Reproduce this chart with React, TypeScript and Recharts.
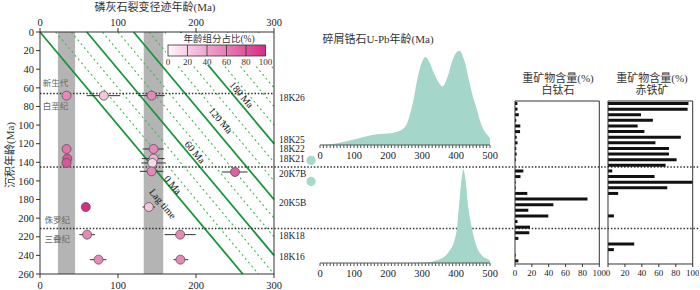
import React from "react";
import {
  Area,
  AreaChart,
  Bar,
  ComposedChart,
  ErrorBar,
  Line,
  ReferenceArea,
  ReferenceDot,
  ReferenceLine,
  Scatter,
  ScatterChart,
  XAxis,
  YAxis,
} from "recharts";

const FONT = '"Liberation Serif", "Noto Sans CJK SC", serif';

// apatite fission-track ages (x) against depositional age (y)
const aftX = [34, 81.8, 143, 34, 145.6, 35, 145.6, 34, 144, 143, 250, 58.7, 139.5, 60.4, 179.7, 75, 180];
const aftY = [68.4, 68.4, 68.4, 125.7, 125.7, 136, 136, 140.7, 140.7, 149.7, 150.4, 188, 188, 217.7, 217.7, 244.6, 244.6];
const aftErrLo = [4, 22, 17, 3, 14, 3, 15, 3, 14, 15, 17, 4, 8, 10, 20, 11, 9];
const aftErrHi = [4, 21, 17, 3, 13, 3, 14, 3, 16, 15, 16, 4, 8, 10, 20, 10, 10];
const aftPct = [55, 25, 55, 65, 55, 80, 35, 80, 15, 55, 75, 100, 25, 55, 55, 55, 55];

const xTicks = [0, 100, 200, 300];
const yTicks = [0, 20, 40, 60, 80, 100, 120, 140, 160, 180, 200, 220, 240, 260];
const bands = [
  [23, 45],
  [133, 158],
];
const solidLags = [0, 60, 120, 180];
const dottedLags = [20, 40, 80, 100, 140, 160, 200, 220, 240, 260, 280];
const boundaries = [66, 145, 211];
const boundaryWide = [false, true, true];

const sampleNames = ["18K26", "18K25", "18K22", "18K21", "20K7B", "20K5B", "18K18", "18K16"];
const sampleY = [70.6, 115.8, 125.8, 136.2, 152.5, 183.7, 218.8, 241];
const zirconDotsY = [138, 160.5];

const periodLabels = [
  { t: "新生代", x: 20, y: 54.5 },
  { t: "白垩纪", x: 20, y: 80 },
  { t: "侏罗纪", x: 22, y: 201.5 },
  { t: "三叠纪", x: 22, y: 222.3 },
];
const lagLabels = [
  { t: "180 Ma", x: 258.5, y: 67.3 },
  { t: "120 Ma", x: 231.7, y: 95 },
  { t: "60 Ma", x: 198.6, y: 129 },
  { t: "0 Ma", x: 170.4, y: 164 },
  { t: "Lag time", x: 157.5, y: 184.4 },
];

const legendTicks = [0, 20, 40, 60, 80, 100];

// detrital zircon U-Pb KDE curves
const kdeTopX = [0, 25, 50, 75, 100, 125, 150, 175, 200, 225, 250, 265, 275, 284, 300, 310, 320, 335, 350, 360, 375, 390, 400, 410, 425, 440, 450, 460, 470, 480, 490, 500];
const kdeTopH = [0, 0.5, 1.7, 3.5, 5.5, 7.8, 9.8, 11, 11.5, 13, 18, 31, 45, 62, 83, 88, 84, 72, 62, 58.5, 68, 85, 92, 94.3, 84, 62, 48, 37, 25, 16, 11, 7];
const kdeBotX = [0, 100, 200, 300, 325, 343, 360, 382, 395, 402, 412, 418, 421.5, 426, 436, 446, 461, 475, 490, 500];
const kdeBotH = [0, 0, 0, 0.2, 1, 2.7, 5, 12.7, 22, 32.7, 69, 88, 93.4, 88, 56, 36, 16, 8, 4.4, 2.5];
const kdeTicks = Array.from({ length: 51 }, (_, i) => i * 10);

// heavy mineral content (%)
const leucoxene = [2.8, 3, 4.5, 1.5, 6.3, 6, 2, 3, 1.5, 2, 1, 0, 9.9, 6.5, 0.8, 0.8, 14.6, 86, 45.5, 15.8, 39.5, 3, 17.8, 17, 4, 0, 0, 0.8, 4];
const hematite = [95, 94, 39, 53, 35, 43, 86, 56, 72, 72, 81, 68, 5, 55, 100, 70, 12, 0, 0, 0, 7, 0, 0, 0, 0, 31, 7, 0, 0];
const barTicks = [0, 20, 40, 60, 80, 100];

const PINK0 = [255, 246, 251];
const PINK1 = [214, 44, 132];
function pink(p: number) {
  const t = p / 100;
  const c = PINK0.map((a, i) => Math.round(a + (PINK1[i] - a) * t));
  return `rgb(${c[0]},${c[1]},${c[2]})`;
}

const tickStyle = { fill: "#222", fontSize: 10.5, fontFamily: FONT };
const sampleTick = { fill: "#222", fontSize: 9.5, fontFamily: FONT };
const smallTick = { fill: "#222", fontSize: 9, fontFamily: FONT };

function lagSegment(L: number) {
  const end = L + 260 <= 300 ? { x: L + 260, y: 260 } : { x: 300, y: 300 - L };
  return [{ x: L, y: 0 }, end];
}

function AftChart() {
  const points = aftX.map((x, i) => ({
    x,
    y: aftY[i],
    err: [aftErrLo[i], aftErrHi[i]],
    pct: aftPct[i],
  }));
  return (
    <ScatterChart width={700} height={290} margin={{ top: 18, right: 376, bottom: 0, left: 0 }}>
      <XAxis xAxisId="t" orientation="top" type="number" dataKey="x" domain={[0, 300]}
        ticks={xTicks} interval={0} height={14} tickSize={4} tick={tickStyle} stroke="#333" />
      <XAxis xAxisId="b" orientation="bottom" type="number" dataKey="x" domain={[0, 300]}
        ticks={xTicks} interval={0} height={16} tickSize={4} tickMargin={4} tick={tickStyle} stroke="#333" />
      <YAxis yAxisId="l" type="number" dataKey="y" domain={[0, 260]} reversed ticks={yTicks}
        interval={0} width={40} tickSize={4} tick={tickStyle} stroke="#333" />
      <YAxis yAxisId="r" orientation="right" type="number" dataKey="y" domain={[0, 260]} reversed
        ticks={sampleY} interval={0} width={50} tickSize={3} tickLine={false} stroke="#333"
        tick={sampleTick} tickFormatter={(v: number) => sampleNames[sampleY.indexOf(v)] ?? ""} />

      {bands.map(([a, b]) => (
        <ReferenceArea key={a} xAxisId="b" yAxisId="l" x1={a} x2={b} y1={0} y2={260}
          fill="#b4b4b4" fillOpacity={1} stroke="none" ifOverflow="visible" />
      ))}
      {dottedLags.map((L) => (
        <ReferenceLine key={"d" + L} xAxisId="b" yAxisId="l" segment={lagSegment(L)}
          stroke="#46b556" strokeWidth={1.1} strokeDasharray="2 3" ifOverflow="visible" />
      ))}
      {solidLags.map((L) => (
        <ReferenceLine key={"s" + L} xAxisId="b" yAxisId="l" segment={lagSegment(L)}
          stroke="#16963a" strokeWidth={1.8} ifOverflow="visible" />
      ))}
      {boundaries.map((b, i) => (
        <ReferenceLine key={"b" + b} xAxisId="b" yAxisId="l"
          segment={[{ x: 0, y: b }, { x: boundaryWide[i] ? 850 : 300, y: b }]}
          stroke="#333" strokeWidth={1.5} strokeDasharray="1.5 1.8" ifOverflow="visible" />
      ))}
      {zirconDotsY.map((y) => (
        <ReferenceDot key={"z" + y} xAxisId="b" yAxisId="l" x={347.5} y={y} r={4.6}
          fill="#a6d8cb" stroke="none" ifOverflow="visible" />
      ))}

      {/* keeps the top and right frame axes attached */}
      <Scatter xAxisId="t" yAxisId="r" data={points} isAnimationActive={false} shape={() => <g />} />

      <Scatter xAxisId="b" yAxisId="l" data={periodLabels} isAnimationActive={false}
        shape={(p: any) => (
          <text x={p.cx} y={p.cy} textAnchor="middle" dominantBaseline="central"
            fontSize={8.5} fill="#666" fontFamily={FONT}>{p.payload.t}</text>
        )} />
      <Scatter xAxisId="b" yAxisId="l" data={lagLabels} isAnimationActive={false}
        shape={(p: any) => (
          <text x={p.cx} y={p.cy} textAnchor="middle" dominantBaseline="central"
            fontSize={10} fill="#111" fontFamily={FONT}
            transform={`rotate(50 ${p.cx} ${p.cy})`}>{p.payload.t}</text>
        )} />
      <Scatter xAxisId="b" yAxisId="l" data={points} isAnimationActive={false}
        shape={(p: any) => (
          <circle cx={p.cx} cy={p.cy} r={4.5} fill={pink(p.payload.pct)} stroke="#555" strokeWidth={0.8} />
        )}>
        <ErrorBar dataKey="err" direction="x" width={0} stroke="#333" strokeWidth={1} />
      </Scatter>
    </ScatterChart>
  );
}

function Legend() {
  const x0 = 2;
  const w = 97.5;
  return (
    <div style={{ position: "absolute", left: 166, top: 33, width: 107, height: 32, background: "#fff" }}>
      <svg width={107} height={32}>
        <defs>
          <linearGradient id="pinkbar" x1="0" y1="0" x2="1" y2="0">
            <stop offset="0%" stopColor={pink(0)} />
            <stop offset="100%" stopColor={pink(100)} />
          </linearGradient>
        </defs>
        <text x={53} y={6} textAnchor="middle" dominantBaseline="central" fontSize={9.5}
          fill="#333" fontFamily={FONT}>年龄组分占比(%)</text>
        <rect x={x0} y={12} width={w} height={11} fill="url(#pinkbar)" stroke="#333" strokeWidth={0.8} />
        {legendTicks.slice(1, -1).map((t) => (
          <line key={t} x1={x0 + (w * t) / 100} x2={x0 + (w * t) / 100} y1={12} y2={23}
            stroke="#333" strokeWidth={0.8} />
        ))}
        {legendTicks.map((t) => (
          <text key={"l" + t} x={x0 + (w * t) / 100} y={28.5} textAnchor="middle"
            dominantBaseline="central" fontSize={9} fill="#333" fontFamily={FONT}>{t}</text>
        ))}
      </svg>
    </div>
  );
}

function Kde({ xs, hs }: { xs: number[]; hs: number[] }) {
  const data = xs.map((x, i) => ({ x, h: hs[i] }));
  return (
    <AreaChart width={190} height={125} data={data} margin={{ top: 5, right: 10, bottom: 0, left: 10 }}>
      <XAxis type="number" dataKey="x" domain={[0, 500]} ticks={kdeTicks} interval={0}
        height={20} tickSize={3} tickMargin={4} stroke="#555" tick={tickStyle}
        tickFormatter={(v: number) => (v % 100 === 0 ? String(v) : "")} />
      <YAxis hide domain={[0, 100]} />
      <Area type="monotone" dataKey="h" stroke="none" fill="#a4d6c9" fillOpacity={1} isAnimationActive={false} />
    </AreaChart>
  );
}

function Minerals({ values, width, right }: { values: number[]; width: number; right: number }) {
  const data = values.map((v, i) => ({ row: "r" + i, v }));
  return (
    <ComposedChart layout="vertical" width={width} height={189} data={data}
      margin={{ top: 5, right, bottom: 0, left: 9 }}>
      <XAxis type="number" dataKey="v" domain={[0, 100]} ticks={barTicks} interval={0} height={20}
        tickSize={3} tickMargin={3} stroke="#333" tick={smallTick} />
      <XAxis xAxisId="top" orientation="top" type="number" dataKey="v" domain={[0, 100]} height={1}
        tick={false} tickLine={false} stroke="#333" />
      <YAxis type="category" dataKey="row" width={1} tick={false} tickLine={false} stroke="#333" />
      <YAxis yAxisId="right" orientation="right" type="category" dataKey="row" width={1}
        tick={false} tickLine={false} stroke="#333" />
      <Bar dataKey="v" fill="#111" barSize={3} isAnimationActive={false} />
      {/* invisible series so the top and right frame axes render */}
      <Line xAxisId="top" yAxisId="right" dataKey="v" stroke="none" dot={false} activeDot={false}
        isAnimationActive={false} />
    </ComposedChart>
  );
}

const abs = (left: number, top: number): React.CSSProperties => ({ position: "absolute", left, top });
const label: React.CSSProperties = {
  position: "absolute",
  fontSize: 11,
  color: "#333",
  whiteSpace: "nowrap",
  lineHeight: 1,
  transform: "translate(-50%, -50%)",
};

export default function App() {
  return (
    <div style={{ position: "absolute", left: 0, top: 0, width: 700, height: 290, background: "#fff", fontFamily: FONT, overflow: "hidden" }}>
      <div style={abs(0, 0)}>
        <AftChart />
      </div>
      <Legend />
      <div style={abs(310, 40)}>
        <Kde xs={kdeTopX} hs={kdeTopH} />
      </div>
      <div style={abs(310, 157.7)}>
        <Kde xs={kdeBotX} hs={kdeBotH} />
      </div>
      <div style={abs(505, 95)}>
        <Minerals values={leucoxene} width={102.3} right={7} />
      </div>
      <div style={abs(598.3, 95)}>
        <Minerals values={hematite} width={100.7} right={5} />
      </div>

      <div style={{ ...label, left: 155, top: 7 }}>磷灰石裂变径迹年龄(Ma)</div>
      <div style={{ ...label, left: 10, top: 155, transform: "translate(-50%, -50%) rotate(-90deg)" }}>沉积年龄(Ma)</div>
      <div style={{ ...label, left: 378, top: 39 }}>碎屑锆石U-Pb年龄(Ma)</div>
      <div style={{ ...label, left: 558, top: 78 }}>重矿物含量(%)</div>
      <div style={{ ...label, left: 558, top: 90 }}>白钛石</div>
      <div style={{ ...label, left: 652, top: 78 }}>重矿物含量(%)</div>
      <div style={{ ...label, left: 652, top: 90 }}>赤铁矿</div>
    </div>
  );
}
